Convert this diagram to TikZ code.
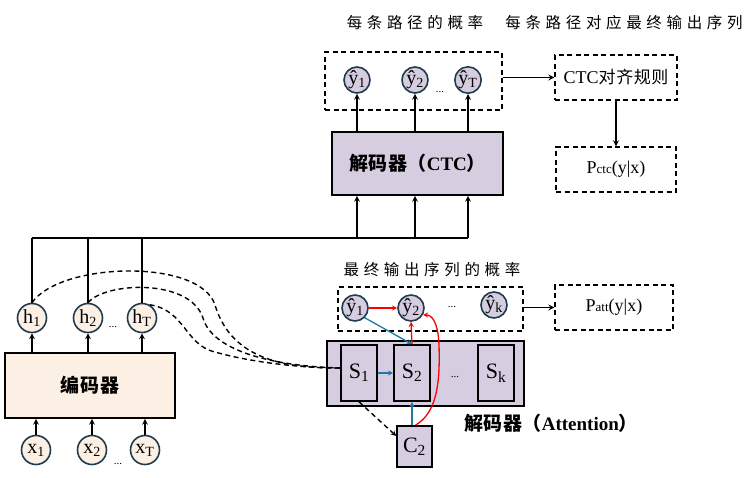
\documentclass[tikz,border=0pt]{standalone}
\usepackage{fontspec}
\setmainfont{Liberation Serif}
\newfontfamily\cjk{Noto Sans CJK SC}[LetterSpace=30]
\newfontfamily\cjkbf{Noto Sans CJK SC}[LetterSpace=3]
\usepackage{xcolor}
\usepackage{tikz}

\definecolor{boxpurple}{HTML}{D6CDE1}
\definecolor{encbeige}{HTML}{FCEFE3}
\definecolor{ringblue}{HTML}{1F3B4D}
\definecolor{linkblue}{HTML}{1B7BA3}

\begin{document}
\begin{tikzpicture}[x=1pt, y=-1pt, >=stealth,
  font=\fontsize{18}{20}\selectfont,
  yhat/.style={circle, draw=ringblue, line width=1.6pt, fill=boxpurple, minimum size=26pt, inner sep=0pt, font=\fontsize{20}{21}\selectfont},
  hstate/.style={circle, draw=ringblue, line width=1.6pt, fill=encbeige, minimum size=29pt, inner sep=0pt, font=\fontsize{20}{21}\selectfont},
  dashbox/.style={draw, dashed, dash pattern=on 5pt off 3.5pt, line width=1.4pt},
  decbox/.style={draw, line width=1.6pt, fill=boxpurple},
  statebox/.style={decbox, minimum width=36pt, minimum height=56pt, inner sep=0pt, font=\fontsize{22}{23}\selectfont},
  cjkhead/.style={font=\cjk\fontsize{15.5}{17}\selectfont},
  cjkbold/.style={font=\fontsize{19}{21}\selectfont\cjkbf\bfseries},
  link/.style={line width=1.6pt},
  dashlink/.style={line width=1.4pt, dash pattern=on 5pt off 3.5pt},
]
\useasboundingbox (0,0) rectangle (754,477);

% Headings
\node[cjkhead] (ttlpath) at (415,23) {每条路径的概率};
\node[cjkhead] (ttlseq) at (624,23) {每条路径对应最终输出序列};
\node[cjkhead] (ttlatt) at (432,270) {最终输出序列的概率};

% CTC branch
\node[dashbox, minimum width=177pt, minimum height=58pt] (ctcout) at (413.5,81) {};
\node[yhat] (yc1) at (357,80) {ŷ\textsubscript{1}};
\node[yhat] (yc2) at (415,80) {ŷ\textsubscript{2}};
\node[yhat] (ycT) at (468,80) {ŷ\textsubscript{T}};
\node[font=\fontsize{11}{12}\selectfont] (dotsc) at (440,92) {...};
\node[decbox, cjkbold, minimum width=171pt, minimum height=63pt] (ctcdec) at (417.5,163.5)
  {解码器（{\rmfamily\bfseries CTC}）};
\node[dashbox, minimum width=122pt, minimum height=45pt] (rule) at (616,77.5)
  {CTC{\cjkbf\fontsize{17}{18}\selectfont 对齐规则}};
\node[dashbox, minimum width=120pt, minimum height=45pt] (pctc) at (616,169.5)
  {P{\fontsize{13}{14}\selectfont ctc}(y|x)};

\draw[link, ->] (ctcout.east |- rule) -- (rule.west);
\draw[link, ->] (rule.south) -- (pctc.north);
\foreach \n in {yc1, yc2, ycT}
  \draw[link, ->] (ctcdec.north -| \n) -- (\n.south);

% Encoder
\node[draw, cjkbold, line width=1.6pt, fill=encbeige, minimum width=170pt, minimum height=65pt] (enc) at (90,385.5)
  {编码器};
\node[hstate] (h1) at (32,318) {h\textsubscript{1}};
\node[hstate] (h2) at (88,318) {h\textsubscript{2}};
\node[hstate] (hT) at (142,318) {h\textsubscript{T}};
\node[font=\fontsize{11}{12}\selectfont] (dotsh) at (113,327) {...};
\node[hstate] (x1) at (36,450) {x\textsubscript{1}};
\node[hstate] (x2) at (92,450) {x\textsubscript{2}};
\node[hstate] (xT) at (145,450) {x\textsubscript{T}};
\node[font=\fontsize{11}{12}\selectfont] (dotsx) at (118,464) {...};

\foreach \n in {h1, h2, hT}
  \draw[link, ->] (enc.north -| \n) -- (\n.south);
\foreach \n in {x1, x2, xT}
  \draw[link, ->] (x1.north -| \n) -- (enc.south -| \n);

% Bus from the encoder states to the CTC decoder
\coordinate (busL) at (32,238);
\coordinate (busR) at (468,238);
\draw[link] (busL) -- (busR);
\foreach \n in {h1, h2, hT}
  \draw[link] (\n.north) -- (\n.north |- busL);
\foreach \n in {yc1, yc2, ycT}
  \draw[link, ->] (busL -| \n) -- (ctcdec.south -| \n);

% Attention branch
\node[dashbox, minimum width=185pt, minimum height=44pt] (attout) at (430.5,309) {};
\node[decbox, minimum width=197pt, minimum height=65pt] (attdec) at (425.5,373.5) {};
\node[yhat] (ya1) at (355,308) {ŷ\textsubscript{1}};
\node[yhat] (ya2) at (411,308) {ŷ\textsubscript{2}};
\node[yhat] (yak) at (494,305) {ŷ\textsubscript{k}};
\node[font=\fontsize{11}{12}\selectfont] (dotsa) at (452,307) {...};
\node[statebox] (S1) at (359,373) {S\textsubscript{1}};
\node[statebox] (S2) at (412,373) {S\textsubscript{2}};
\node[statebox] (Sk) at (496,373) {S\textsubscript{k}};
\node[font=\fontsize{11}{12}\selectfont] (dotss) at (455,377) {...};
\node[cjkbold] (attlbl) at (551,423) {解码器（{\rmfamily\bfseries Attention}）};
\node[statebox, minimum width=35pt, minimum height=41pt] (C2) at (414.5,446.5) {C\textsubscript{2}};
\node[dashbox, minimum width=118pt, minimum height=45pt] (patt) at (614,307.5)
  {P{\fontsize{13}{14}\selectfont att}(y|x)};

\draw[link, ->] (attout.east |- patt) -- (patt.west);

% attention links
\coordinate (S1in) at ([yshift=5pt]S1.west);
\draw[dashlink] (h1.north) .. controls (60,262) and (200,258) .. (215,305)
  .. controls (232,362) and (290,368) .. (S1in);
\draw[dashlink] (h2.north) .. controls (105,282) and (190,278) .. (203,318)
  .. controls (212,350) and (270,366) .. (S1in);
\draw[dashlink] (hT.60) .. controls (185,310) and (185,345) .. (215,352)
  .. controls (250,362) and (300,368) .. (S1in);
\draw[dashlink, ->] (S1.south) -- (C2.150);

\draw[linkblue, line width=1.3pt, ->] (S1.east) -- (S2.west);
\draw[linkblue, line width=1.3pt, ->] (C2.north -| S2) -- (S2.south);
\draw[linkblue, line width=1.3pt, ->] (ya1.south east) -- (S2.north);
\draw[red, line width=1.3pt, ->] (ya1.east) -- (ya2.west);
\draw[red, line width=1.3pt, ->] (S2.north) -- (ya2.south);
\draw[red, line width=1.3pt, ->] ([xshift=1pt]C2.north) .. controls (438,412) and (440,380) .. (439,345)
  .. controls (438,322) and (432,315) .. (ya2.-30);

\end{tikzpicture}
\end{document}
